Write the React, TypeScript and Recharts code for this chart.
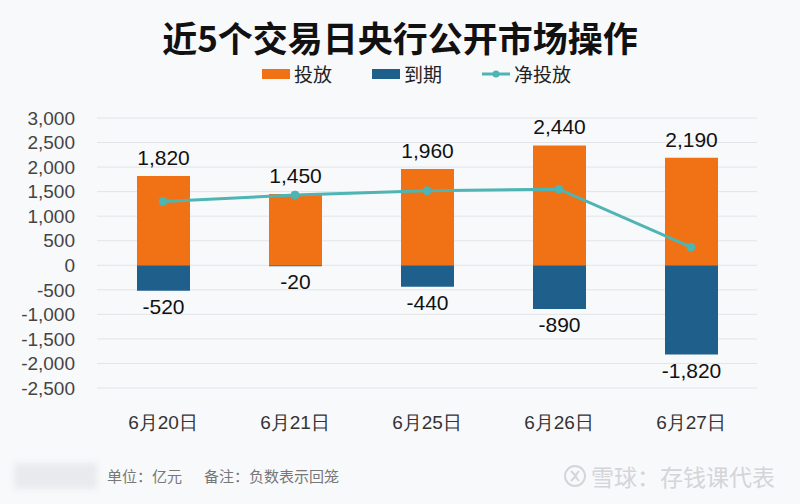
import React from "react";
import {
    ComposedChart,
    Bar,
    Line,
    XAxis,
    YAxis,
    CartesianGrid,
    LabelList,
} from "recharts";

const dates = ["6月20日", "6月21日", "6月25日", "6月26日", "6月27日"];
const injections = [1820, 1450, 1960, 2440, 2190];
const maturities = [-520, -20, -440, -890, -1820];
const netInjections = [1300, 1430, 1520, 1550, 370];
const yTicks = [3000, 2500, 2000, 1500, 1000, 500, 0, -500, -1000, -1500, -2000, -2500];

const data = dates.map((date, i) => ({
    date,
    inject: injections[i],
    mature: maturities[i],
    net: netInjections[i],
}));

const ORANGE = "#f07215";
const BLUE = "#1e5f8c";
const TEAL = "#4fb4b4";
const CJK = '"Noto Sans CJK SC", "Noto Sans", sans-serif';
const NUM = '"Liberation Sans", Arial, sans-serif';

const fmt = (v: any) => Number(v).toLocaleString("en-US");

// label under the bottom edge of a negative bar
const BelowLabel = (props: any) => {
    const { x, y, width, height, value } = props;
    const bottom = Math.max(y, y + height);
    return (
        <text
            x={x + width / 2}
            y={bottom + 8}
            textAnchor="middle"
            dominantBaseline="hanging"
            fill="#111"
            fontSize={21}
            fontFamily={NUM}
        >
            {fmt(value)}
        </text>
    );
};

const LegendItem = ({ color, label, line }: { color: string; label: string; line?: boolean }) => (
    <div style={{ display: "flex", alignItems: "center", marginRight: 40 }}>
        {line ? (
            <svg width={28} height={10} style={{ marginRight: 4 }}>
                <line x1={0} y1={5} x2={28} y2={5} stroke={color} strokeWidth={3} />
                <circle cx={14} cy={5} r={3.5} fill={color} />
            </svg>
        ) : (
            <div style={{ width: 28, height: 10, background: color, marginRight: 4 }} />
        )}
        <span>{label}</span>
    </div>
);

export default function App() {
    return (
        <div
            style={{
                position: "fixed",
                left: 0,
                top: 0,
                width: 800,
                height: 504,
                background: "#f8f9fb",
                fontFamily: CJK,
                overflow: "hidden",
            }}
        >
            <div
                style={{
                    position: "absolute",
                    top: 12,
                    width: 800,
                    textAlign: "center",
                    fontSize: 35,
                    fontWeight: 700,
                    color: "#111",
                    lineHeight: "50px",
                }}
            >
                近5个交易日央行公开市场操作
            </div>
            <div
                style={{
                    position: "absolute",
                    top: 61,
                    left: 262,
                    display: "flex",
                    fontSize: 19,
                    color: "#222",
                    lineHeight: "26px",
                }}
            >
                <LegendItem color={ORANGE} label="投放" />
                <LegendItem color={BLUE} label="到期" />
                <LegendItem color={TEAL} label="净投放" line />
            </div>

            <div style={{ position: "absolute", left: 0, top: 0 }}>
                <ComposedChart
                    width={800}
                    height={504}
                    data={data}
                    stackOffset="sign"
                    margin={{ top: 118, right: 43, left: 7, bottom: 76 }}
                >
                    <CartesianGrid vertical={false} stroke="#e2e4e7" strokeWidth={1} />
                    <XAxis
                        dataKey="date"
                        axisLine={false}
                        tickLine={false}
                        height={40}
                        tickMargin={22}
                        tick={{ fill: "#333", fontSize: 19, fontFamily: NUM }}
                    />
                    <YAxis
                        domain={[-2500, 3000]}
                        ticks={yTicks}
                        interval={0}
                        width={90}
                        axisLine={false}
                        tickLine={false}
                        tickMargin={16}
                        tickFormatter={fmt}
                        tick={{ fill: "#444", fontSize: 19, fontFamily: NUM }}
                    />
                    <Bar dataKey="inject" stackId="a" fill={ORANGE} barSize={53} isAnimationActive={false}>
                        <LabelList
                            dataKey="inject"
                            position="top"
                            offset={11}
                            formatter={fmt}
                            fill="#111"
                            fontSize={21}
                            fontFamily={NUM}
                        />
                    </Bar>
                    <Bar dataKey="mature" stackId="a" fill={BLUE} barSize={53} isAnimationActive={false}>
                        <LabelList dataKey="mature" content={BelowLabel} />
                    </Bar>
                    <Line
                        dataKey="net"
                        stroke={TEAL}
                        strokeWidth={3}
                        dot={{ r: 4, fill: TEAL, stroke: TEAL, strokeWidth: 1 }}
                        isAnimationActive={false}
                    />
                </ComposedChart>
            </div>

            <div
                style={{
                    position: "absolute",
                    left: 14,
                    top: 463,
                    width: 83,
                    height: 26,
                    background: "#e8eaed",
                    filter: "blur(3px)",
                }}
            />
            <div
                style={{
                    position: "absolute",
                    left: 107,
                    top: 465,
                    fontSize: 15,
                    color: "#777",
                    lineHeight: "22px",
                    whiteSpace: "nowrap",
                }}
            >
                单位：亿元
                <span style={{ marginLeft: 22 }}>备注：负数表示回笼</span>
            </div>
            <div
                style={{
                    position: "absolute",
                    left: 563,
                    top: 460,
                    display: "flex",
                    alignItems: "center",
                    fontSize: 23,
                    color: "#d3d5d8",
                    lineHeight: "32px",
                    whiteSpace: "nowrap",
                }}
            >
                <svg width={24} height={24} style={{ marginRight: 4 }}>
                    <circle cx={12} cy={12} r={10} fill="none" stroke="#d3d5d8" strokeWidth={2} />
                    <path d="M8 7 L13 12 L8 17 M16 7 L12 12 L16 17" fill="none" stroke="#d3d5d8" strokeWidth={2} />
                </svg>
                雪球：存钱课代表
            </div>
        </div>
    );
}
